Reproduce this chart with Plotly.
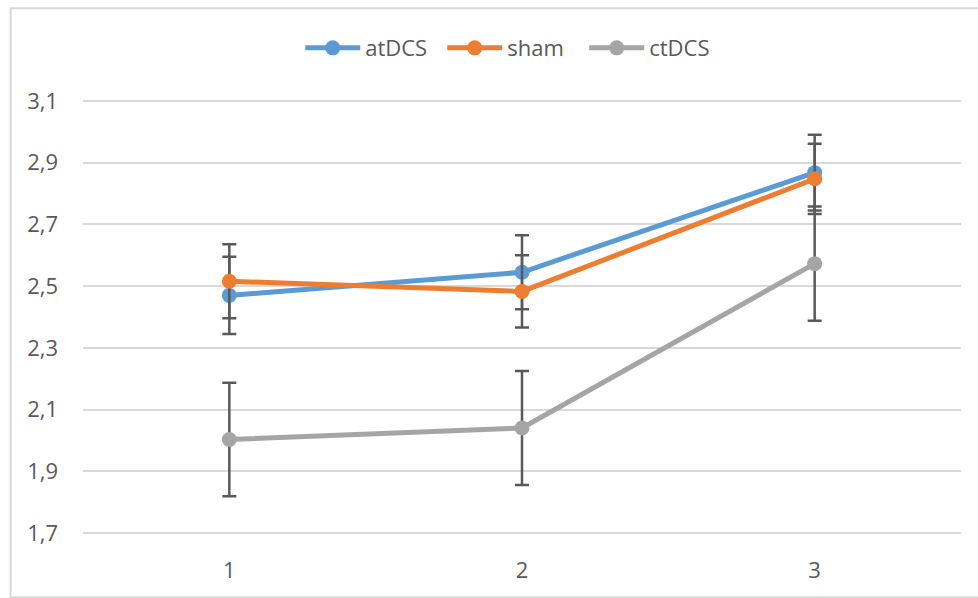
import plotly.graph_objects as go

categories = ["1", "2", "3"]
atDCS = [2.47, 2.545, 2.868]
atDCS_err = [0.125, 0.12, 0.123]
sham = [2.516, 2.483, 2.848]
sham_err = [0.12, 0.117, 0.114]
ctDCS = [2.003, 2.04, 2.573]
ctDCS_err = [0.184, 0.185, 0.185]
y_ticks = [1.7, 1.9, 2.1, 2.3, 2.5, 2.7, 2.9, 3.1]
y_tick_labels = ["1,7", "1,9", "2,1", "2,3", "2,5", "2,7", "2,9", "3,1"]

series = [
    ("atDCS", atDCS, atDCS_err, "#5B9BD5"),
    ("sham", sham, sham_err, "#ED7D31"),
    ("ctDCS", ctDCS, ctDCS_err, "#A5A5A5"),
]

fig = go.Figure()
for name, vals, errs, color in series:
    fig.add_trace(go.Scatter(
        x=categories, y=vals, name=name, mode="lines+markers",
        line=dict(color=color, width=5),
        marker=dict(color=color, size=15),
        error_y=dict(type="data", array=errs, visible=True,
                     color="#595959", thickness=2.5, width=7),
    ))

font_family = "Open Sans, Noto Sans, sans-serif"
fig.update_layout(
    width=978, height=598,
    margin=dict(l=82.5, r=16.5, t=98, b=62, autoexpand=False),
    paper_bgcolor="white", plot_bgcolor="white",
    font=dict(family=font_family, size=22, color="#595959"),
    showlegend=True,
    legend=dict(orientation="h", x=0.49, xanchor="center", y=1.114, yanchor="middle",
                font=dict(size=22, color="#595959"), itemwidth=55, entrywidth=72,
                bgcolor="rgba(0,0,0,0)"),
    xaxis=dict(type="category", range=[-0.5, 2.5], showgrid=False, zeroline=False,
               showline=False, ticks="", ticklabelstandoff=19,
               tickfont=dict(size=22, color="#595959")),
    yaxis=dict(range=[1.69, 3.11], tickvals=y_ticks, ticktext=y_tick_labels,
               showgrid=True, gridcolor="#D9D9D9", gridwidth=2, zeroline=False,
               showline=False, ticks="", ticklabelstandoff=24,
               tickfont=dict(size=22, color="#595959")),
    shapes=[dict(type="rect", xref="paper", yref="paper",
                 x0=-0.0825, x1=1.1, y0=-0.14, y1=1.205,
                 line=dict(color="#D9D9D9", width=2), fillcolor="rgba(0,0,0,0)",
                 layer="below")],
)

fig.write_html("out.html", config={"displayModeBar": False},
               post_script="document.body.style.margin='0';document.body.style.overflow='hidden';")
